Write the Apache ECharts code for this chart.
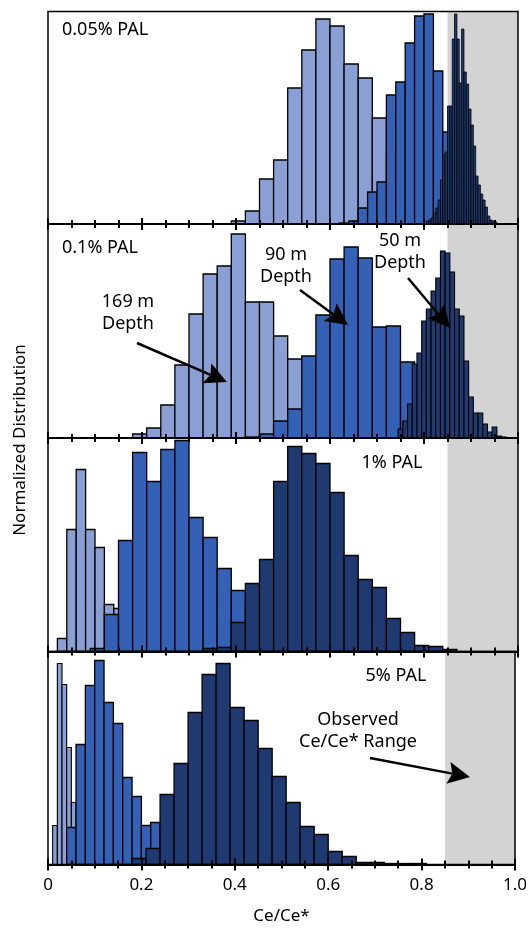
<!DOCTYPE html>
<html>
<head>
<meta charset="utf-8">
<title>Ce/Ce* distributions</title>
<script src="https://cdn.jsdelivr.net/npm/echarts@6.0.0/dist/echarts.min.js"></script>
<style>
  html, body { margin: 0; padding: 0; background: #fff; }
  #chart { width: 530px; height: 930px; }
</style>
</head>
<body>
<div id="chart"></div>
<script>
// shared x axis
const xTicks = [0, 0.2, 0.4, 0.6, 0.8, 1.0];
const observedRange = [0.85, 1.0];
const panelLabels = ['0.05% PAL', '0.1% PAL', '1% PAL', '5% PAL'];

// panel 1 - 0.05% PAL (bin start, bin width, heights)
const p1LightStart = 0.39, p1LightBin = 0.03;
const p1Light = [3, 13, 45, 64, 136, 174, 205, 198, 160, 146, 106, 70, 40, 15, 4];
const p1MediumStart = 0.62, p1MediumBin = 0.02;
const p1Medium = [1, 3, 16, 32, 42, 129, 142, 181, 208, 210, 153, 92, 40, 12, 3];
const p1DarkStart = 0.805, p1DarkBin = 0.005;
const p1Dark = [3, 4, 6, 11, 16, 24, 44, 69, 72, 118, 118, 185, 210, 185, 141, 195, 152, 140, 115, 99, 78, 48, 39, 30, 24, 17, 8, 4, 3, 2];

// panel 2 - 0.1% PAL
const p2LightStart = 0.18, p2LightBin = 0.03;
const p2Light = [4, 10, 33, 73, 124, 164, 172, 204, 136, 136, 102, 79, 55, 35, 20, 10, 4];
const p2MediumStart = 0.42, p2MediumBin = 0.03;
const p2Medium = [1, 4, 17, 29, 82, 123, 179, 191, 180, 111, 112, 76, 45, 20, 8, 3];
const p2DarkStart = 0.745, p2DarkBin = 0.01;
const p2Dark = [9, 17, 34, 74, 85, 117, 129, 147, 160, 187, 185, 166, 129, 122, 77, 41, 25, 25, 14, 6, 11, 2, 1];

// panel 3 - 1% PAL
const p3LightStart = 0.02, p3LightBin = 0.02;
const p3Light = [13, 122, 182, 122, 104, 47, 43, 25, 10, 4];
const p3MediumStart = 0.09, p3MediumBin = 0.03;
const p3Medium = [3, 37, 111, 199, 170, 202, 211, 134, 114, 83, 61, 45, 25, 12, 5, 2];
const p3DarkStart = 0.33, p3DarkBin = 0.03;
const p3Dark = [3, 4, 29, 68, 92, 170, 205, 198, 188, 159, 96, 72, 64, 33, 19, 6, 5, 2];

// panel 4 - 5% PAL
const p4LightStart = 0.01, p4LightBin = 0.01;
const p4Light = [39, 201, 180, 117, 62, 30, 12, 5];
const p4MediumStart = 0.04, p4MediumBin = 0.02;
const p4Medium = [37, 120, 179, 204, 162, 141, 87, 68, 39, 42, 34, 20, 10, 5, 2];
const p4DarkStart = 0.18, p4DarkBin = 0.03;
const p4Dark = [6, 16, 70, 101, 152, 190, 201, 157, 144, 116, 88, 62, 38, 30, 13, 8, 2, 2, 1, 1, 1];

const FONT = 'Noto Sans';
const colors = { light: '#8aa0d4', medium: '#3461b6', dark: '#1e3a70', band: '#d3d3d3' };
const gridTop = [11.5, 224, 438, 651.5];
const gridHeight = [212.5, 214, 213.5, 213];

const chart = echarts.init(document.getElementById('chart'));

function histogram(panel, start, bin, heights, color, z, lw) {
  return {
    type: 'custom',
    xAxisIndex: panel * 2,
    yAxisIndex: panel,
    z: z,
    silent: true,
    data: heights.map((h, i) => [start + i * bin, start + (i + 1) * bin, h]),
    encode: { x: [0, 1], y: 2 },
    renderItem: (params, api) => {
      const a = api.coord([api.value(0), api.value(2)]);
      const b = api.coord([api.value(1), 0]);
      return {
        type: 'rect',
        shape: { x: a[0], y: a[1], width: b[0] - a[0], height: b[1] - a[1] },
        style: { fill: color, stroke: '#000', lineWidth: lw }
      };
    }
  };
}

function band(panel) {
  return {
    type: 'custom',
    xAxisIndex: panel * 2,
    yAxisIndex: panel,
    z: 1,
    silent: true,
    data: [observedRange],
    renderItem: (params, api) => {
      const a = api.coord([api.value(0), gridHeight[panel]]);
      const b = api.coord([api.value(1), 0]);
      return {
        type: 'rect',
        shape: { x: a[0], y: a[1], width: b[0] - a[0], height: b[1] - a[1] },
        style: { fill: colors.band }
      };
    }
  };
}

function arrow(x1, y1, x2, y2) {
  const dx = x2 - x1, dy = y2 - y1, len = Math.hypot(dx, dy);
  const ux = dx / len, uy = dy / len;
  const hl = 22, hw = 11;
  const bx = x2 - ux * hl, by = y2 - uy * hl;
  return [
    { type: 'line', z: 100, shape: { x1: x1, y1: y1, x2: bx + ux * 4, y2: by + uy * 4 },
      style: { stroke: '#000', lineWidth: 2.5 } },
    { type: 'polygon', z: 100,
      shape: { points: [[x2, y2], [bx - uy * hw, by + ux * hw], [bx + ux * 4, by + uy * 4], [bx + uy * hw, by - ux * hw]] },
      style: { fill: '#000' } }
  ];
}

function label(text, x, y, align) {
  return {
    type: 'text', x: x, y: y, z: 100,
    style: { text: text, fontFamily: FONT, fontSize: 18, fill: '#000',
      textAlign: align || 'center', textVerticalAlign: 'middle', lineHeight: 22 }
  };
}

const tickLine = { color: '#000', width: 2 };
const xAxes = [];
const yAxes = [];
const grids = [];
for (let i = 0; i < 4; i++) {
  grids.push({ left: 48, right: 12, top: gridTop[i], height: gridHeight[i], show: true,
    borderColor: '#000', borderWidth: 1.5, backgroundColor: 'transparent', z: 10 });
  xAxes.push({
    gridIndex: i, type: 'value', min: xTicks[0], max: xTicks[xTicks.length - 1], interval: 0.2,
    position: 'bottom', z: 12,
    axisLine: { show: true, onZero: false, lineStyle: { color: '#000', width: 2 } },
    axisTick: { show: true, inside: false, length: 6, lineStyle: tickLine },
    minorTick: { show: true, splitNumber: 4, length: 4, lineStyle: tickLine },
    splitLine: { show: false },
    axisLabel: { show: i === 3, color: '#000', fontFamily: FONT, fontSize: 17, margin: 12,
      formatter: v => (v === 0 ? '0' : v.toFixed(1)) },
    name: i === 3 ? 'Ce/Ce*' : '',
    nameLocation: 'middle', nameGap: 43,
    nameTextStyle: { color: '#000', fontFamily: FONT, fontSize: 17 }
  });
  xAxes.push({
    gridIndex: i, type: 'value', min: xTicks[0], max: xTicks[xTicks.length - 1], interval: 0.2,
    position: 'bottom', z: 12,
    axisLine: { show: false, onZero: false },
    axisTick: { show: true, inside: true, length: 6, lineStyle: tickLine },
    minorTick: { show: true, splitNumber: 4, length: 4, lineStyle: tickLine },
    splitLine: { show: false },
    axisLabel: { show: false }
  });
  yAxes.push({ gridIndex: i, type: 'value', min: 0, max: gridHeight[i], show: false });
}

const series = [
  band(0), band(1), band(2), band(3),
  histogram(0, p1LightStart, p1LightBin, p1Light, colors.light, 2, 1.3),
  histogram(0, p1MediumStart, p1MediumBin, p1Medium, colors.medium, 3, 1.3),
  histogram(0, p1DarkStart, p1DarkBin, p1Dark, colors.dark, 4, 0.8),
  histogram(1, p2LightStart, p2LightBin, p2Light, colors.light, 2, 1.3),
  histogram(1, p2MediumStart, p2MediumBin, p2Medium, colors.medium, 3, 1.3),
  histogram(1, p2DarkStart, p2DarkBin, p2Dark, colors.dark, 4, 1.1),
  histogram(2, p3LightStart, p3LightBin, p3Light, colors.light, 2, 1.3),
  histogram(2, p3MediumStart, p3MediumBin, p3Medium, colors.medium, 3, 1.3),
  histogram(2, p3DarkStart, p3DarkBin, p3Dark, colors.dark, 4, 1.3),
  histogram(3, p4LightStart, p4LightBin, p4Light, colors.light, 2, 1.1),
  histogram(3, p4MediumStart, p4MediumBin, p4Medium, colors.medium, 3, 1.3),
  histogram(3, p4DarkStart, p4DarkBin, p4Dark, colors.dark, 4, 1.3)
];

const graphics = [
  label(panelLabels[0], 62, 30, 'left'),
  label(panelLabels[1], 62, 248, 'left'),
  label(panelLabels[2], 392, 463),
  label(panelLabels[3], 396, 676),
  label('169 m\nDepth', 128, 313),
  label('90 m\nDepth', 286, 266),
  label('50 m\nDepth', 400, 252),
  label('Observed\nCe/Ce* Range', 358, 731),
  ...arrow(137, 343, 227, 382),
  ...arrow(300, 290, 348, 325),
  ...arrow(408, 278, 450, 328),
  ...arrow(370, 758, 470, 777),
  {
    type: 'text', x: 20, y: 440, rotation: Math.PI / 2, z: 100,
    style: { text: 'Normalized Distribution', fontFamily: FONT, fontSize: 17, fill: '#000',
      textAlign: 'center', textVerticalAlign: 'middle' }
  }
];

chart.setOption({
  animation: false,
  grid: grids,
  xAxis: xAxes,
  yAxis: yAxes,
  series: series,
  graphic: graphics
});
</script>
</body>
</html>
